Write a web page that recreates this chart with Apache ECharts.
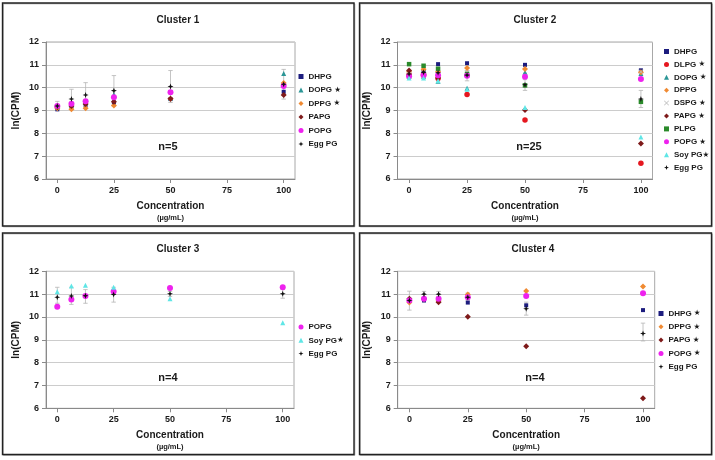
<!DOCTYPE html>
<html><head><meta charset="utf-8">
<script src="https://cdn.jsdelivr.net/npm/echarts@6/dist/echarts.min.js"></script>
<style>html,body{margin:0;padding:0;background:#fff}#c{width:715px;height:460px}</style>
</head><body><div id="c"></div>
<script>
// ---------- data ----------
const concentrations = [0, 6.25, 12.5, 25, 50, 100];
const xTickLabels = [0, 25, 50, 75, 100];
const panelTitles = ['Cluster 1', 'Cluster 2', 'Cluster 3', 'Cluster 4'];
const panelN = ['n=5', 'n=25', 'n=4', 'n=4'];

// Cluster 1
const c1_DHPG = [9.05, 9.2, 9.25, 9.35, 9.5, 9.82];
const c1_DOPG = [9.15, 9.25, 9.35, 9.7, 9.55, 10.62];
const c1_DPPG = [9.1, 9.05, 9.1, 9.22, 9.52, 10.2];
const c1_PAPG = [9.15, 9.2, 9.28, 9.38, 9.52, 9.68];
const c1_POPG = [9.2, 9.3, 9.4, 9.58, 9.8, 10.07];
const c1_Egg  = [9.2, 9.5, 9.68, 9.87, 10.05, 10.15];
const c1_errLow  = [9.05, 9.1, 9.15, 9.2, 9.35, 9.5];
const c1_errHigh = [9.4, 9.93, 10.22, 10.53, 10.75, 10.8];
const c1_starred = ['DOPG', 'DPPG'];

// Cluster 2
const c2_DHPG = [10.67, 10.7, 11.03, 11.07, 11.0, 10.76];
const c2_DLPG = [10.55, 10.55, 10.4, 9.7, 8.58, 6.69];
const c2_DOPG = [10.5, 10.5, 10.28, 9.97, 10.67, 10.62];
const c2_DPPG = [10.7, 10.81, 10.7, 10.86, 10.82, 10.68];
const c2_DSPG = [10.6, 10.55, 10.5, 10.65, 10.1, 10.7];
const c2_PAPG = [10.75, 10.6, 10.42, 10.53, 9.02, 7.56];
const c2_PLPG = [11.03, 10.96, 10.83, 10.6, 10.1, 9.38];
const c2_POPG = [10.5, 10.54, 10.54, 10.52, 10.48, 10.38];
const c2_Soy  = [10.42, 10.42, 10.3, 9.93, 9.13, 7.84];
const c2_Egg  = [10.6, 10.67, 10.65, 10.55, 10.13, 9.5];
const c2_errLow  = [10.5, 10.55, 10.55, 10.3, 9.88, 9.13];
const c2_errHigh = [10.7, 10.78, 10.75, 10.75, 10.35, 9.88];
const c2_starred = ['DLPG', 'DOPG', 'DSPG', 'PAPG', 'POPG', 'Soy PG'];

// Cluster 3
const c3_POPG = [10.45, 10.77, 10.92, 11.12, 11.27, 11.3];
const c3_Soy  = [11.1, 11.36, 11.39, 11.3, 10.8, 9.75];
const c3_Egg  = [10.86, 10.92, 10.93, 10.98, 11.02, 11.02];
const c3_errLow  = [10.6, 10.55, 10.6, 10.65, 10.9, 10.82];
const c3_errHigh = [11.3, 11.3, 11.2, 11.3, 11.12, 11.2];
const c3_starred = ['Soy PG'];

// Cluster 4
const c4_DHPG = [10.75, 10.72, 10.7, 10.63, 10.51, 10.3];
const c4_DPPG = [10.63, 10.8, 10.7, 10.98, 11.14, 11.33];
const c4_PAPG = [10.8, 10.8, 10.65, 10.01, 8.72, 6.44];
const c4_POPG = [10.72, 10.8, 10.8, 10.86, 10.92, 11.04];
const c4_Egg  = [10.72, 11.0, 11.0, 10.86, 10.36, 9.28];
const c4_errLow  = [10.3, 10.85, 10.9, 10.7, 10.08, 8.95];
const c4_errHigh = [11.13, 11.12, 11.12, 11.05, 10.65, 9.73];
const c4_starred = ['DHPG', 'DPPG', 'PAPG', 'POPG'];

// ---------- styles ----------
const styleMap = {
  'DHPG':   {color: '#1c1c7e', symbol: 'rect', size: 4},
  'DLPG':   {color: '#e5171f', symbol: 'circle', size: 5.5},
  'DOPG':   {color: '#2b9696', symbol: 'triangle', size: 5},
  'DPPG':   {color: '#f08a32', symbol: 'diamond', size: 6},
  'DSPG':   {color: '#bdbdbd', symbol: 'path://M0,1 L1,0 L5,4 L9,0 L10,1 L6,5 L10,9 L9,10 L5,6 L1,10 L0,9 L4,5 Z', size: 5},
  'PAPG':   {color: '#7e1a1a', symbol: 'diamond', size: 6},
  'PLPG':   {color: '#2a8a2a', symbol: 'rect', size: 4.5},
  'POPG':   {color: '#ee22ee', symbol: 'circle', size: 6},
  'Soy PG': {color: '#5fe6e6', symbol: 'triangle', size: 5},
  'Egg PG': {color: '#111111', symbol: 'path://M5,0 L6.3,3.7 L10,5 L6.3,6.3 L5,10 L3.7,6.3 L0,5 L3.7,3.7 Z', size: 6}
};

const panels = [
  {series: [['DHPG', c1_DHPG], ['DOPG', c1_DOPG], ['DPPG', c1_DPPG], ['PAPG', c1_PAPG], ['POPG', c1_POPG], ['Egg PG', c1_Egg]],
   errLow: c1_errLow, errHigh: c1_errHigh, starred: c1_starred,
   grid: {left: 46, top: 42, width: 249, height: 137}, legend: {left: 298.5, top: 71.5, gap: 3.5},
   titlePos: [173, 16], nPos: [168, 147], xmin: -5, xmax: 105},
  {series: [['DHPG', c2_DHPG], ['DLPG', c2_DLPG], ['DOPG', c2_DOPG], ['DPPG', c2_DPPG], ['DSPG', c2_DSPG], ['PAPG', c2_PAPG], ['PLPG', c2_PLPG], ['POPG', c2_POPG], ['Soy PG', c2_Soy], ['Egg PG', c2_Egg]],
   errLow: c2_errLow, errHigh: c2_errHigh, starred: c2_starred,
   grid: {left: 397.5, top: 42, width: 255, height: 137}, legend: {left: 664, top: 46.5, gap: 2.9},
   titlePos: [530, 16], nPos: [529, 147], xmin: -5, xmax: 105},
  {series: [['POPG', c3_POPG], ['Soy PG', c3_Soy], ['Egg PG', c3_Egg]],
   errLow: c3_errLow, errHigh: c3_errHigh, starred: c3_starred,
   grid: {left: 46, top: 271.3, width: 248, height: 137}, legend: {left: 298.5, top: 322, gap: 3.3},
   titlePos: [173, 245.5], nPos: [168, 378], xmin: -5, xmax: 105},
  {series: [['DHPG', c4_DHPG], ['DPPG', c4_DPPG], ['PAPG', c4_PAPG], ['POPG', c4_POPG], ['Egg PG', c4_Egg]],
   errLow: c4_errLow, errHigh: c4_errHigh, starred: c4_starred,
   grid: {left: 397.7, top: 271.3, width: 257, height: 137}, legend: {left: 658.5, top: 308.5, gap: 3.3},
   titlePos: [528, 245.5], nPos: [535, 378], xmin: -5, xmax: 105}
];

const FONT = 'Liberation Sans, Arial, sans-serif';
const TXT = '#1a1a1a';

function renderErr(params, api) {
  const x = api.value(0), lo = api.value(1), hi = api.value(2);
  const a = api.coord([x, lo]), b = api.coord([x, hi]);
  const w = 2.2, st = {stroke: '#b5b5b5', lineWidth: 0.8};
  return {type: 'group', children: [
    {type: 'line', shape: {x1: b[0], y1: b[1], x2: a[0], y2: a[1]}, style: st},
    {type: 'line', shape: {x1: b[0] - w, y1: b[1], x2: b[0] + w, y2: b[1]}, style: st},
    {type: 'line', shape: {x1: a[0] - w, y1: a[1], x2: a[0] + w, y2: a[1]}, style: st}
  ]};
}

const grids = [], xAxes = [], yAxes = [], series = [], legends = [], titles = [], graphics = [];

panels.forEach((p, i) => {
  grids.push(Object.assign({show: true, borderColor: '#a8a8a8', borderWidth: 1, backgroundColor: '#fff'}, p.grid));
  xAxes.push({
    type: 'value', gridIndex: i, min: p.xmin, max: p.xmax,
    axisLine: {show: true, onZero: false, lineStyle: {color: '#8a8a8a', width: 1}},
    axisTick: {show: true, length: 4, lineStyle: {color: '#8a8a8a'}, customValues: xTickLabels},
    axisLabel: {customValues: xTickLabels, color: TXT, fontFamily: FONT, fontWeight: 'bold', fontSize: 9, margin: 7},
    splitLine: {show: false},
    name: '{a|Concentration}\n{b|(µg/mL)}', nameLocation: 'middle', nameGap: 21,
    nameTextStyle: {rich: {
      a: {fontFamily: FONT, fontWeight: 'bold', fontSize: 10, color: TXT, lineHeight: 12},
      b: {fontFamily: FONT, fontWeight: 'bold', fontSize: 7.5, color: TXT, lineHeight: 11}
    }}
  });
  yAxes.push({
    type: 'value', gridIndex: i, min: 6, max: 12, interval: 1,
    axisLine: {show: true, onZero: false, lineStyle: {color: '#8a8a8a', width: 1}},
    axisTick: {show: true, length: 4, lineStyle: {color: '#8a8a8a'}},
    axisLabel: {color: TXT, fontFamily: FONT, fontWeight: 'bold', fontSize: 9, margin: 7},
    splitLine: {show: true, lineStyle: {color: '#cccccc', width: 1}},
    name: 'ln(CPM)', nameLocation: 'middle', nameRotate: 90, nameGap: 25,
    nameTextStyle: {fontFamily: FONT, fontWeight: 'bold', fontSize: 10, color: TXT}
  });
  series.push({
    type: 'custom', name: '_err' + i, xAxisIndex: i, yAxisIndex: i, z: 1,
    renderItem: renderErr, encode: {x: 0, y: [1, 2]}, silent: true,
    data: concentrations.map((c, k) => [c, p.errLow[k], p.errHigh[k]])
  });
  p.series.forEach(([name, vals]) => {
    const s = styleMap[name];
    series.push({
      type: 'scatter', name: name, xAxisIndex: i, yAxisIndex: i, z: 3,
      symbol: s.symbol, symbolSize: s.size, itemStyle: {color: s.color, opacity: 1},
      data: concentrations.map((c, k) => [c, vals[k]])
    });
  });
  const starred = p.starred;
  legends.push({
    orient: 'vertical', left: p.legend.left, top: p.legend.top,
    itemWidth: 5, itemHeight: 5, itemGap: p.legend.gap, padding: 0,
    selectedMode: false,
    data: p.series.map(s => s[0]),
    formatter: n => starred.indexOf(n) >= 0 ? (n === 'Soy PG' ? n + '{s|★}' : n + ' {s|★}') : n,
    textStyle: {fontFamily: FONT, fontWeight: 'bold', fontSize: 8, color: TXT, lineHeight: 10,
      rich: {s: {fontFamily: 'DejaVu Sans', fontSize: 7.5, color: TXT, lineHeight: 10}}}
  });
  titles.push({
    text: panelTitles[i], left: p.titlePos[0], top: p.titlePos[1] - 6, textAlign: 'center',
    textStyle: {fontFamily: FONT, fontWeight: 'bold', fontSize: 10, color: TXT}
  });
  graphics.push({
    type: 'text', x: p.nPos[0], y: p.nPos[1], z: 10,
    style: {text: panelN[i], fill: TXT, font: 'bold 11px ' + FONT, textAlign: 'center', textVerticalAlign: 'middle'}
  });
});

// panel borders
[[2.5, 3, 351.5, 223], [359.5, 3, 352, 223], [2.5, 233, 351.5, 221.5], [359.5, 233, 352, 221.5]].forEach(r => {
  graphics.push({type: 'rect', z: -1, shape: {x: r[0] + 0.8, y: r[1] + 0.8, width: r[2], height: r[3]}, style: {fill: 'none', stroke: '#aaaaaa', lineWidth: 1}, silent: true});
  graphics.push({type: 'rect', z: 0, shape: {x: r[0], y: r[1], width: r[2], height: r[3]}, style: {fill: 'none', stroke: '#222222', lineWidth: 1.4}, silent: true});
});

const chart = echarts.init(document.getElementById('c'), null, {renderer: 'canvas'});
chart.setOption({
  animation: false,
  backgroundColor: '#ffffff',
  title: titles, grid: grids, xAxis: xAxes, yAxis: yAxes,
  legend: legends, series: series, graphic: graphics
});
</script></body></html>
